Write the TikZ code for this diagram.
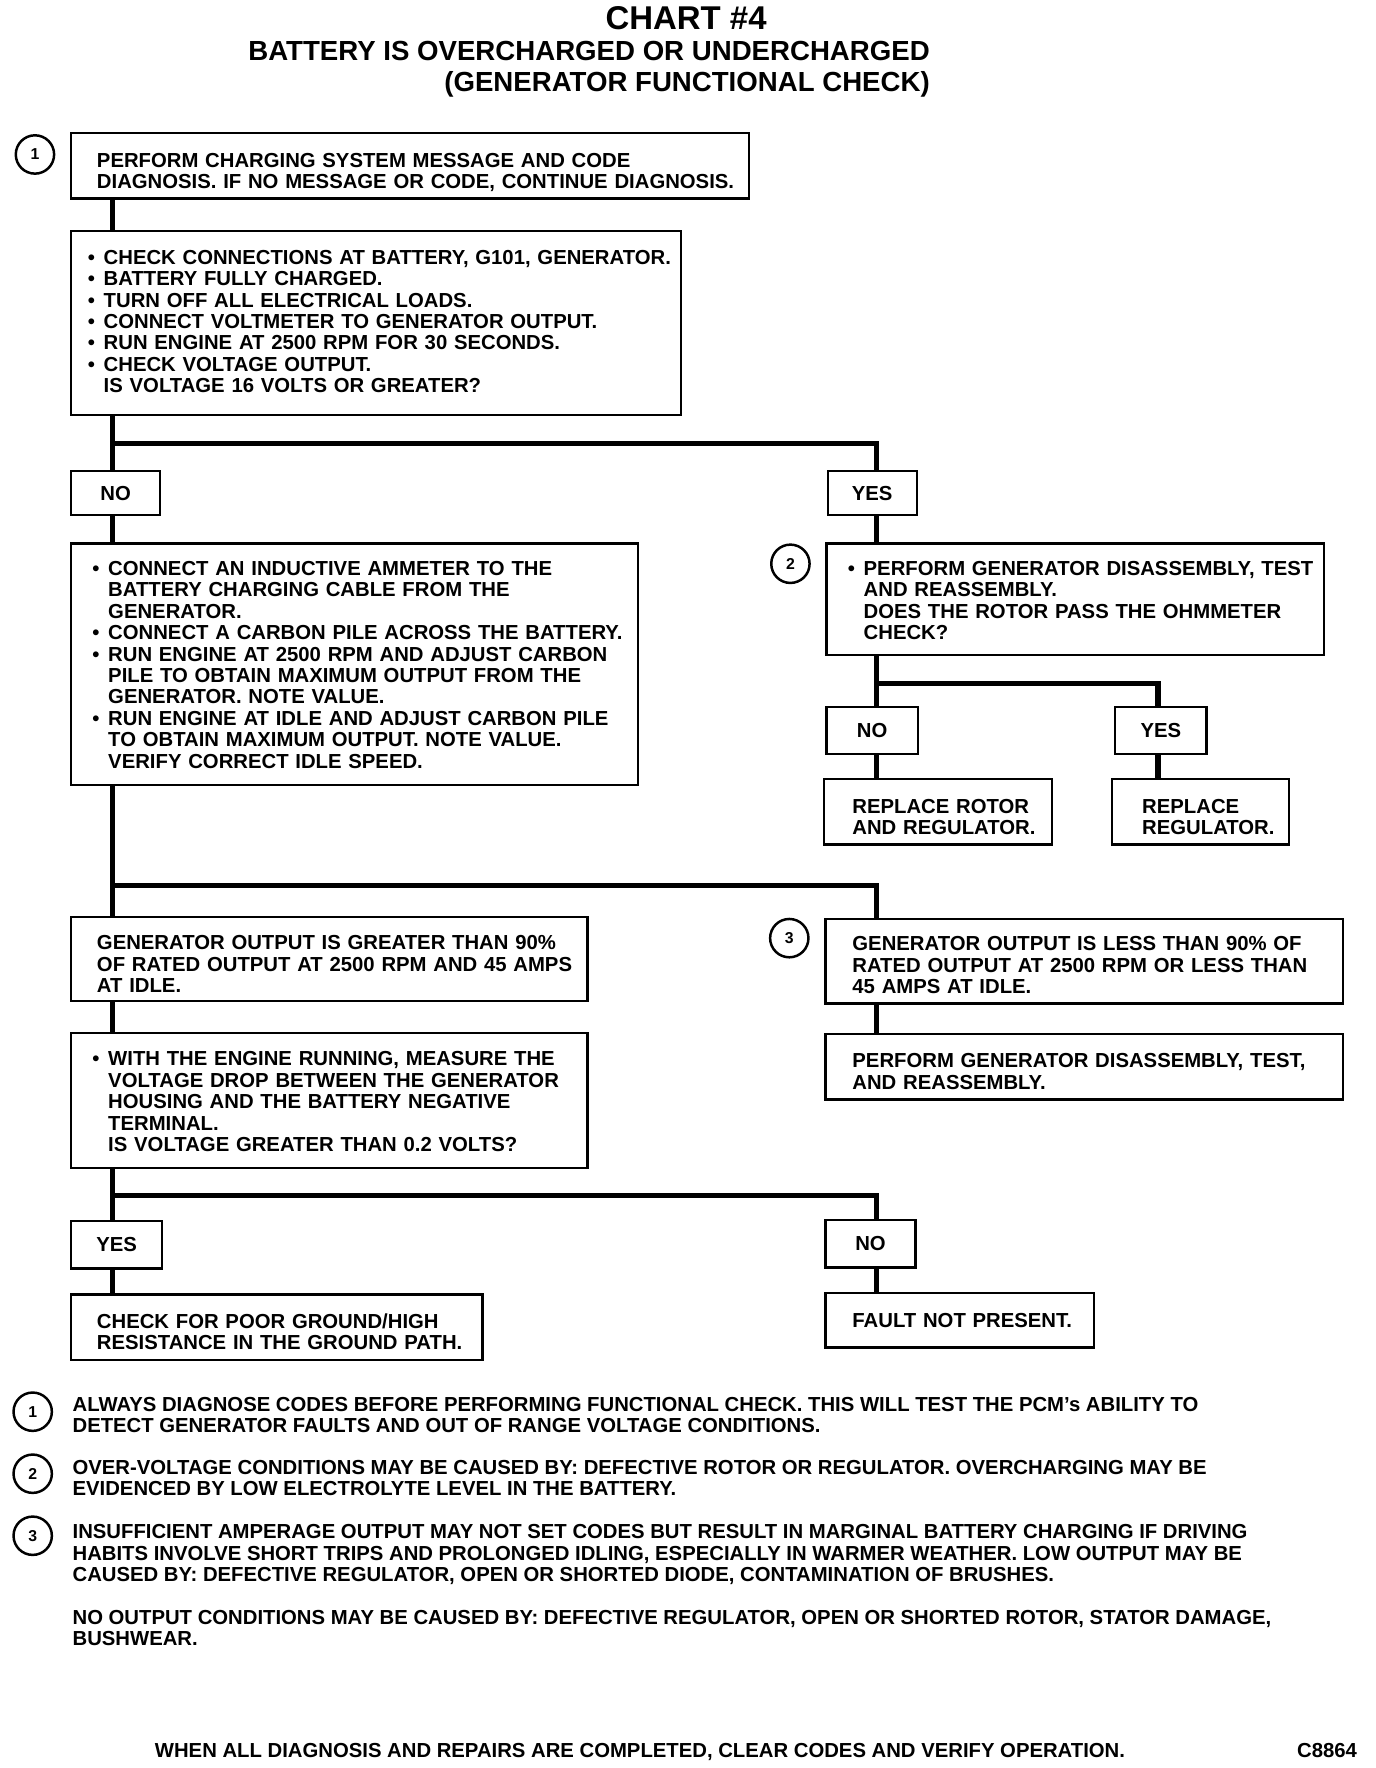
\documentclass[tikz,border=0pt]{standalone}
\usepackage{fontspec}
\setmainfont{Liberation Sans}
\usetikzlibrary{calc}
\newcommand{\bxfont}{\fontsize{9}{9.5}\selectfont\bfseries}
\newcommand{\bxt}[3]{\noindent\hspace*{#1}\raisebox{-#2}[\height][\depth]{\begin{tabular}{@{}l@{}}#3\end{tabular}}}
\newcommand{\bu}{\makebox[7pt][l]{•}}
\newcommand{\nb}{\hspace*{7pt}}
\begin{document}
\begin{tikzpicture}[x=0.5pt,y=-0.5pt,
  tbox/.style={draw, line width=1pt, anchor=north west, inner sep=0pt, align=left, font=\bxfont},
  ynbox/.style={draw, line width=1pt, anchor=north west, inner sep=0pt, font=\bxfont},
  conn/.style={line width=2.3pt},
  num/.style={draw, circle, line width=1.1pt, minimum size=17pt, inner sep=0pt, font=\fontsize{7}{8}\selectfont\bfseries},
  ftxt/.style={anchor=north west, inner sep=0pt, font=\bxfont},
  ttl/.style={inner sep=0pt, font=\fontsize{12.25}{14}\selectfont\bfseries}
]
\useasboundingbox (0,0) rectangle (1220,1568);
\coordinate (L) at (100,0);
\coordinate (R) at (777,0);
\coordinate (R2) at (1027,0);

% title
\node[anchor=base, inner sep=0pt, font=\fontsize{14.6}{16}\selectfont\bfseries] (title) at (608.5,26.5) {CHART \#4};
\node[ttl, anchor=base east] (sub1) at (825,53.8) {BATTERY IS OVERCHARGED OR UNDERCHARGED};
\node[ttl, anchor=base east] (sub2) at (825,80.8) {(GENERATOR FUNCTIONAL CHECK)};

% boxes
\node[tbox, text width=300.5pt, minimum height=29pt] (b1) at (62,117)
  {\bxt{11.5pt}{3.5pt}{PERFORM CHARGING SYSTEM MESSAGE AND CODE\\DIAGNOSIS. IF NO MESSAGE OR CODE, CONTINUE DIAGNOSIS.}};
\node[num] (c1) at (31,137) {1};

\node[tbox, text width=270.5pt, minimum height=81.5pt] (b2) at (62,204)
  {\bxt{7.5pt}{0.5pt}{\bu CHECK CONNECTIONS AT BATTERY, G101, GENERATOR.\\
  \bu BATTERY FULLY CHARGED.\\
  \bu TURN OFF ALL ELECTRICAL LOADS.\\
  \bu CONNECT VOLTMETER TO GENERATOR OUTPUT.\\
  \bu RUN ENGINE AT 2500 RPM FOR 30 SECONDS.\\
  \bu CHECK VOLTAGE OUTPUT.\\
  \nb IS VOLTAGE 16 VOLTS OR GREATER?}};

\node[ynbox, minimum width=39.5pt, minimum height=19.5pt] (no1) at (62,417) {NO};
\node[ynbox, minimum width=39.5pt, minimum height=19.5pt] (yes1) at (733,417) {YES};

\node[tbox, text width=251.5pt, minimum height=107pt] (b3) at (62,481)
  {\bxt{9.5pt}{1.5pt}{\bu CONNECT AN INDUCTIVE AMMETER TO THE\\
  \nb BATTERY CHARGING CABLE FROM THE\\
  \nb GENERATOR.\\
  \bu CONNECT A CARBON PILE ACROSS THE BATTERY.\\
  \bu RUN ENGINE AT 2500 RPM AND ADJUST CARBON\\
  \nb PILE TO OBTAIN MAXIMUM OUTPUT FROM THE\\
  \nb GENERATOR. NOTE VALUE.\\
  \bu RUN ENGINE AT IDLE AND ADJUST CARBON PILE\\
  \nb TO OBTAIN MAXIMUM OUTPUT. NOTE VALUE.\\
  \nb VERIFY CORRECT IDLE SPEED.}};

\node[tbox, text width=220.5pt, minimum height=49.5pt] (b4) at (732,481)
  {\bxt{9.5pt}{1.75pt}{\bu PERFORM GENERATOR DISASSEMBLY, TEST\\
  \nb AND REASSEMBLY.\\
  \nb DOES THE ROTOR PASS THE OHMMETER\\
  \nb CHECK?}};
\node[num] (c2) at (701,500) {2};

\node[ynbox, minimum width=40.5pt, minimum height=21pt] (no2) at (732,626) {NO};
\node[ynbox, minimum width=40.5pt, minimum height=21pt] (yes2) at (988,626) {YES};

\node[tbox, text width=101pt, minimum height=29pt] (b5) at (730,690)
  {\bxt{12.5pt}{3.5pt}{REPLACE ROTOR\\AND REGULATOR.}};
\node[tbox, text width=78.5pt, minimum height=29pt] (b6) at (985,690)
  {\bxt{13.5pt}{3.5pt}{REPLACE\\REGULATOR.}};

\node[tbox, text width=229pt, minimum height=37.5pt] (b7) at (62,812)
  {\bxt{11.5pt}{3.5pt}{GENERATOR OUTPUT IS GREATER THAN 90\%\\OF RATED OUTPUT AT 2500 RPM AND 45 AMPS\\AT IDLE.}};
\node[tbox, text width=229.5pt, minimum height=37.5pt] (b8) at (731,814)
  {\bxt{12pt}{3pt}{GENERATOR OUTPUT IS LESS THAN 90\% OF\\RATED OUTPUT AT 2500 RPM OR LESS THAN\\45 AMPS AT IDLE.}};
\node[num] (c3) at (700,832) {3};

\node[tbox, text width=229.5pt, minimum height=29pt] (b9) at (731,916)
  {\bxt{12pt}{3.25pt}{PERFORM GENERATOR DISASSEMBLY, TEST,\\AND REASSEMBLY.}};

\node[tbox, text width=229pt, minimum height=60pt] (b10) at (62,915)
  {\bxt{9.5pt}{1.75pt}{\bu WITH THE ENGINE RUNNING, MEASURE THE\\
  \nb VOLTAGE DROP BETWEEN THE GENERATOR\\
  \nb HOUSING AND THE BATTERY NEGATIVE\\
  \nb TERMINAL.\\
  \nb IS VOLTAGE GREATER THAN 0.2 VOLTS?}};

\node[ynbox, minimum width=40.5pt, minimum height=21pt] (yes3) at (62,1082) {YES};
\node[ynbox, minimum width=40pt, minimum height=21pt] (no3) at (731,1081) {NO};

\node[tbox, text width=182.5pt, minimum height=29pt] (b11) at (62,1147)
  {\bxt{11.5pt}{3.25pt}{CHECK FOR POOR GROUND/HIGH\\RESISTANCE IN THE GROUND PATH.}};
\node[tbox, text width=119pt, minimum height=24pt] (b12) at (731,1146)
  {\bxt{12pt}{1.25pt}{FAULT NOT PRESENT.}};

% connectors
\draw[conn] (b1.south -| L) -- (b2.north -| L);
\draw[conn] (b2.south -| L) -- (no1.north -| L);
\draw[conn] ($(b2.south -| L)+(0,24)$) -| (yes1.north -| R);
\draw[conn] (no1.south -| L) -- (b3.north -| L);
\draw[conn] (yes1.south -| R) -- (b4.north -| R);
\draw[conn] (b4.south -| R) -- (no2.north -| R);
\draw[conn] ($(b4.south -| R)+(0,24)$) -| (yes2.north -| R2);
\draw[conn] (no2.south -| R) -- (b5.north -| R);
\draw[conn] (yes2.south -| R2) -- (b6.north -| R2);
\draw[conn] (b3.south -| L) -- (b7.north -| L);
\draw[conn] ($(b3.south -| L)+(0,88)$) -| (b8.north -| R);
\draw[conn] (b8.south -| R) -- (b9.north -| R);
\draw[conn] (b7.south -| L) -- (b10.north -| L);
\draw[conn] (b10.south -| L) -- (yes3.north -| L);
\draw[conn] ($(b10.south -| L)+(0,23)$) -| (no3.north -| R);
\draw[conn] (yes3.south -| L) -- (b11.north -| L);
\draw[conn] (no3.south -| R) -- (b12.north -| R);

% footnotes
\node[num] (f1) at (29,1252) {1};
\node[ftxt] (t1) at (64,1238) {\begin{tabular}{@{}l@{}}ALWAYS DIAGNOSE CODES BEFORE PERFORMING FUNCTIONAL CHECK. THIS WILL TEST THE PCM's ABILITY TO\\DETECT GENERATOR FAULTS AND OUT OF RANGE VOLTAGE CONDITIONS.\end{tabular}};
\node[num] (f2) at (29,1307) {2};
\node[ftxt] (t2) at (64,1294) {\begin{tabular}{@{}l@{}}OVER-VOLTAGE CONDITIONS MAY BE CAUSED BY: DEFECTIVE ROTOR OR REGULATOR. OVERCHARGING MAY BE\\EVIDENCED BY LOW ELECTROLYTE LEVEL IN THE BATTERY.\end{tabular}};
\node[num] (f3) at (29,1362) {3};
\node[ftxt] (t3) at (64,1351) {\begin{tabular}{@{}l@{}}INSUFFICIENT AMPERAGE OUTPUT MAY NOT SET CODES BUT RESULT IN MARGINAL BATTERY CHARGING IF DRIVING\\HABITS INVOLVE SHORT TRIPS AND PROLONGED IDLING, ESPECIALLY IN WARMER WEATHER. LOW OUTPUT MAY BE\\CAUSED BY: DEFECTIVE REGULATOR, OPEN OR SHORTED DIODE, CONTAMINATION OF BRUSHES.\end{tabular}};
\node[ftxt] (t4) at (64,1427) {\begin{tabular}{@{}l@{}}NO OUTPUT CONDITIONS MAY BE CAUSED BY: DEFECTIVE REGULATOR, OPEN OR SHORTED ROTOR, STATOR DAMAGE,\\BUSHWEAR.\end{tabular}};

\node[anchor=base west, inner sep=0pt, font=\bxfont] (bottom) at (137,1558.4) {WHEN ALL DIAGNOSIS AND REPAIRS ARE COMPLETED, CLEAR CODES AND VERIFY OPERATION.};
\node[anchor=base west, inner sep=0pt, font=\bxfont] (code) at (1150,1558.4) {C8864};
\end{tikzpicture}
\end{document}
